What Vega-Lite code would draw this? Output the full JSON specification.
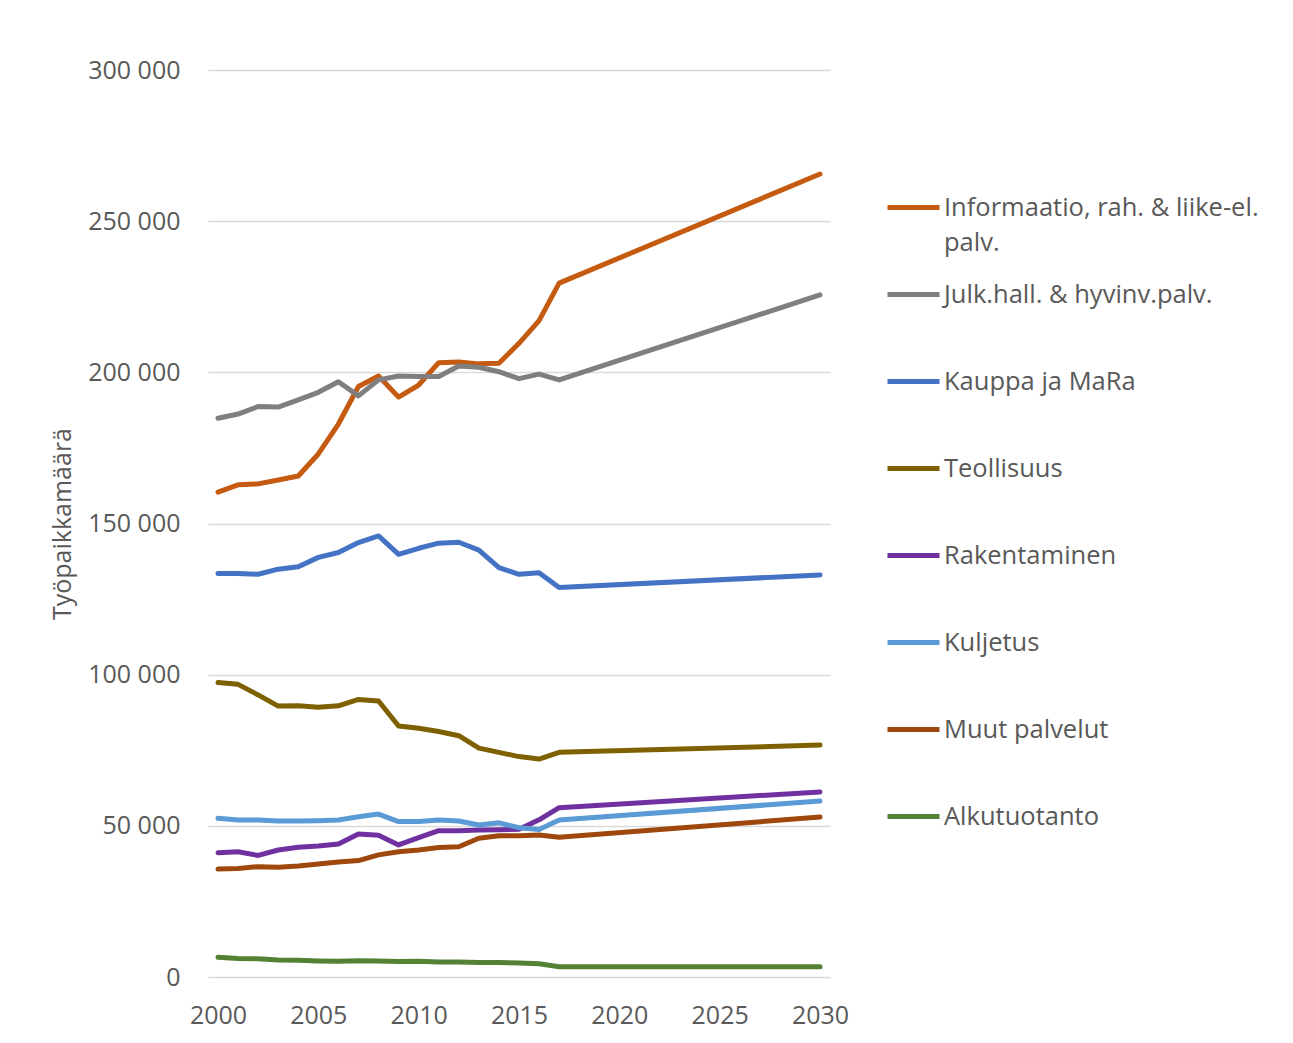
{
  "$schema": "https://vega.github.io/schema/vega-lite/v6.json",
  "width": 622,
  "height": 907,
  "autosize": {"type": "none"},
  "padding": {"left": 208, "top": 70, "right": 463, "bottom": 66},
  "background": "white",
  "config": {
    "view": {"stroke": null},
    "locale": {"number": {"decimal": ",", "thousands": " ", "grouping": [3], "currency": ["", " €"]}},
    "font": "Open Sans",
    "style": {"guide-label": {"lineHeight": 35}}
  },
  "data": {"values": [
    {"year": 2000, "sector": "Informaatio, rah. & liike-el. palv.", "value": 160400},
    {"year": 2001, "sector": "Informaatio, rah. & liike-el. palv.", "value": 162800},
    {"year": 2002, "sector": "Informaatio, rah. & liike-el. palv.", "value": 163100},
    {"year": 2003, "sector": "Informaatio, rah. & liike-el. palv.", "value": 164400},
    {"year": 2004, "sector": "Informaatio, rah. & liike-el. palv.", "value": 165700},
    {"year": 2005, "sector": "Informaatio, rah. & liike-el. palv.", "value": 173000},
    {"year": 2006, "sector": "Informaatio, rah. & liike-el. palv.", "value": 182900},
    {"year": 2007, "sector": "Informaatio, rah. & liike-el. palv.", "value": 195300},
    {"year": 2008, "sector": "Informaatio, rah. & liike-el. palv.", "value": 198800},
    {"year": 2009, "sector": "Informaatio, rah. & liike-el. palv.", "value": 191800},
    {"year": 2010, "sector": "Informaatio, rah. & liike-el. palv.", "value": 195800},
    {"year": 2011, "sector": "Informaatio, rah. & liike-el. palv.", "value": 203200},
    {"year": 2012, "sector": "Informaatio, rah. & liike-el. palv.", "value": 203400},
    {"year": 2013, "sector": "Informaatio, rah. & liike-el. palv.", "value": 202800},
    {"year": 2014, "sector": "Informaatio, rah. & liike-el. palv.", "value": 203000},
    {"year": 2015, "sector": "Informaatio, rah. & liike-el. palv.", "value": 209600},
    {"year": 2016, "sector": "Informaatio, rah. & liike-el. palv.", "value": 217100},
    {"year": 2017, "sector": "Informaatio, rah. & liike-el. palv.", "value": 229500},
    {"year": 2030, "sector": "Informaatio, rah. & liike-el. palv.", "value": 265600},
    {"year": 2000, "sector": "Julk.hall. & hyvinv.palv.", "value": 184800},
    {"year": 2001, "sector": "Julk.hall. & hyvinv.palv.", "value": 186200},
    {"year": 2002, "sector": "Julk.hall. & hyvinv.palv.", "value": 188700},
    {"year": 2003, "sector": "Julk.hall. & hyvinv.palv.", "value": 188500},
    {"year": 2004, "sector": "Julk.hall. & hyvinv.palv.", "value": 190900},
    {"year": 2005, "sector": "Julk.hall. & hyvinv.palv.", "value": 193400},
    {"year": 2006, "sector": "Julk.hall. & hyvinv.palv.", "value": 196900},
    {"year": 2007, "sector": "Julk.hall. & hyvinv.palv.", "value": 192200},
    {"year": 2008, "sector": "Julk.hall. & hyvinv.palv.", "value": 197500},
    {"year": 2009, "sector": "Julk.hall. & hyvinv.palv.", "value": 198800},
    {"year": 2010, "sector": "Julk.hall. & hyvinv.palv.", "value": 198600},
    {"year": 2011, "sector": "Julk.hall. & hyvinv.palv.", "value": 198600},
    {"year": 2012, "sector": "Julk.hall. & hyvinv.palv.", "value": 202100},
    {"year": 2013, "sector": "Julk.hall. & hyvinv.palv.", "value": 201700},
    {"year": 2014, "sector": "Julk.hall. & hyvinv.palv.", "value": 200200},
    {"year": 2015, "sector": "Julk.hall. & hyvinv.palv.", "value": 197900},
    {"year": 2016, "sector": "Julk.hall. & hyvinv.palv.", "value": 199400},
    {"year": 2017, "sector": "Julk.hall. & hyvinv.palv.", "value": 197500},
    {"year": 2030, "sector": "Julk.hall. & hyvinv.palv.", "value": 225600},
    {"year": 2000, "sector": "Kauppa ja MaRa", "value": 133500},
    {"year": 2001, "sector": "Kauppa ja MaRa", "value": 133500},
    {"year": 2002, "sector": "Kauppa ja MaRa", "value": 133200},
    {"year": 2003, "sector": "Kauppa ja MaRa", "value": 134900},
    {"year": 2004, "sector": "Kauppa ja MaRa", "value": 135700},
    {"year": 2005, "sector": "Kauppa ja MaRa", "value": 138800},
    {"year": 2006, "sector": "Kauppa ja MaRa", "value": 140400},
    {"year": 2007, "sector": "Kauppa ja MaRa", "value": 143700},
    {"year": 2008, "sector": "Kauppa ja MaRa", "value": 145900},
    {"year": 2009, "sector": "Kauppa ja MaRa", "value": 139800},
    {"year": 2010, "sector": "Kauppa ja MaRa", "value": 141800},
    {"year": 2011, "sector": "Kauppa ja MaRa", "value": 143500},
    {"year": 2012, "sector": "Kauppa ja MaRa", "value": 143800},
    {"year": 2013, "sector": "Kauppa ja MaRa", "value": 141200},
    {"year": 2014, "sector": "Kauppa ja MaRa", "value": 135400},
    {"year": 2015, "sector": "Kauppa ja MaRa", "value": 133200},
    {"year": 2016, "sector": "Kauppa ja MaRa", "value": 133700},
    {"year": 2017, "sector": "Kauppa ja MaRa", "value": 128800},
    {"year": 2030, "sector": "Kauppa ja MaRa", "value": 133000},
    {"year": 2000, "sector": "Teollisuus", "value": 97400},
    {"year": 2001, "sector": "Teollisuus", "value": 96800},
    {"year": 2002, "sector": "Teollisuus", "value": 93300},
    {"year": 2003, "sector": "Teollisuus", "value": 89600},
    {"year": 2004, "sector": "Teollisuus", "value": 89700},
    {"year": 2005, "sector": "Teollisuus", "value": 89200},
    {"year": 2006, "sector": "Teollisuus", "value": 89700},
    {"year": 2007, "sector": "Teollisuus", "value": 91800},
    {"year": 2008, "sector": "Teollisuus", "value": 91300},
    {"year": 2009, "sector": "Teollisuus", "value": 83000},
    {"year": 2010, "sector": "Teollisuus", "value": 82300},
    {"year": 2011, "sector": "Teollisuus", "value": 81200},
    {"year": 2012, "sector": "Teollisuus", "value": 79800},
    {"year": 2013, "sector": "Teollisuus", "value": 75700},
    {"year": 2014, "sector": "Teollisuus", "value": 74300},
    {"year": 2015, "sector": "Teollisuus", "value": 72900},
    {"year": 2016, "sector": "Teollisuus", "value": 72100},
    {"year": 2017, "sector": "Teollisuus", "value": 74300},
    {"year": 2030, "sector": "Teollisuus", "value": 76700},
    {"year": 2000, "sector": "Rakentaminen", "value": 41100},
    {"year": 2001, "sector": "Rakentaminen", "value": 41400},
    {"year": 2002, "sector": "Rakentaminen", "value": 40200},
    {"year": 2003, "sector": "Rakentaminen", "value": 42000},
    {"year": 2004, "sector": "Rakentaminen", "value": 42900},
    {"year": 2005, "sector": "Rakentaminen", "value": 43300},
    {"year": 2006, "sector": "Rakentaminen", "value": 44000},
    {"year": 2007, "sector": "Rakentaminen", "value": 47300},
    {"year": 2008, "sector": "Rakentaminen", "value": 46900},
    {"year": 2009, "sector": "Rakentaminen", "value": 43700},
    {"year": 2010, "sector": "Rakentaminen", "value": 46100},
    {"year": 2011, "sector": "Rakentaminen", "value": 48400},
    {"year": 2012, "sector": "Rakentaminen", "value": 48400},
    {"year": 2013, "sector": "Rakentaminen", "value": 48600},
    {"year": 2014, "sector": "Rakentaminen", "value": 48700},
    {"year": 2015, "sector": "Rakentaminen", "value": 48900},
    {"year": 2016, "sector": "Rakentaminen", "value": 52000},
    {"year": 2017, "sector": "Rakentaminen", "value": 56000},
    {"year": 2030, "sector": "Rakentaminen", "value": 61200},
    {"year": 2000, "sector": "Kuljetus", "value": 52500},
    {"year": 2001, "sector": "Kuljetus", "value": 51900},
    {"year": 2002, "sector": "Kuljetus", "value": 51900},
    {"year": 2003, "sector": "Kuljetus", "value": 51600},
    {"year": 2004, "sector": "Kuljetus", "value": 51600},
    {"year": 2005, "sector": "Kuljetus", "value": 51700},
    {"year": 2006, "sector": "Kuljetus", "value": 51900},
    {"year": 2007, "sector": "Kuljetus", "value": 53000},
    {"year": 2008, "sector": "Kuljetus", "value": 53900},
    {"year": 2009, "sector": "Kuljetus", "value": 51400},
    {"year": 2010, "sector": "Kuljetus", "value": 51400},
    {"year": 2011, "sector": "Kuljetus", "value": 51900},
    {"year": 2012, "sector": "Kuljetus", "value": 51600},
    {"year": 2013, "sector": "Kuljetus", "value": 50300},
    {"year": 2014, "sector": "Kuljetus", "value": 51000},
    {"year": 2015, "sector": "Kuljetus", "value": 49400},
    {"year": 2016, "sector": "Kuljetus", "value": 48800},
    {"year": 2017, "sector": "Kuljetus", "value": 51900},
    {"year": 2030, "sector": "Kuljetus", "value": 58200},
    {"year": 2000, "sector": "Muut palvelut", "value": 35700},
    {"year": 2001, "sector": "Muut palvelut", "value": 35900},
    {"year": 2002, "sector": "Muut palvelut", "value": 36500},
    {"year": 2003, "sector": "Muut palvelut", "value": 36300},
    {"year": 2004, "sector": "Muut palvelut", "value": 36700},
    {"year": 2005, "sector": "Muut palvelut", "value": 37400},
    {"year": 2006, "sector": "Muut palvelut", "value": 38000},
    {"year": 2007, "sector": "Muut palvelut", "value": 38500},
    {"year": 2008, "sector": "Muut palvelut", "value": 40400},
    {"year": 2009, "sector": "Muut palvelut", "value": 41400},
    {"year": 2010, "sector": "Muut palvelut", "value": 42000},
    {"year": 2011, "sector": "Muut palvelut", "value": 42800},
    {"year": 2012, "sector": "Muut palvelut", "value": 43100},
    {"year": 2013, "sector": "Muut palvelut", "value": 45900},
    {"year": 2014, "sector": "Muut palvelut", "value": 46700},
    {"year": 2015, "sector": "Muut palvelut", "value": 46700},
    {"year": 2016, "sector": "Muut palvelut", "value": 47000},
    {"year": 2017, "sector": "Muut palvelut", "value": 46200},
    {"year": 2030, "sector": "Muut palvelut", "value": 52900},
    {"year": 2000, "sector": "Alkutuotanto", "value": 6500},
    {"year": 2001, "sector": "Alkutuotanto", "value": 6100},
    {"year": 2002, "sector": "Alkutuotanto", "value": 6000},
    {"year": 2003, "sector": "Alkutuotanto", "value": 5600},
    {"year": 2004, "sector": "Alkutuotanto", "value": 5500},
    {"year": 2005, "sector": "Alkutuotanto", "value": 5300},
    {"year": 2006, "sector": "Alkutuotanto", "value": 5200},
    {"year": 2007, "sector": "Alkutuotanto", "value": 5400},
    {"year": 2008, "sector": "Alkutuotanto", "value": 5300},
    {"year": 2009, "sector": "Alkutuotanto", "value": 5100},
    {"year": 2010, "sector": "Alkutuotanto", "value": 5200},
    {"year": 2011, "sector": "Alkutuotanto", "value": 5000},
    {"year": 2012, "sector": "Alkutuotanto", "value": 5000},
    {"year": 2013, "sector": "Alkutuotanto", "value": 4800},
    {"year": 2014, "sector": "Alkutuotanto", "value": 4800},
    {"year": 2015, "sector": "Alkutuotanto", "value": 4600},
    {"year": 2016, "sector": "Alkutuotanto", "value": 4400},
    {"year": 2017, "sector": "Alkutuotanto", "value": 3400},
    {"year": 2030, "sector": "Alkutuotanto", "value": 3400}
  ]},
  "mark": {"type": "line", "strokeWidth": 5, "strokeCap": "round", "strokeJoin": "round"},
  "encoding": {
    "x": {
      "field": "year", "type": "quantitative",
      "scale": {"domain": [2000, 2030], "padding": 10, "nice": false, "zero": false},
      "axis": {
        "values": [2000, 2005, 2010, 2015, 2020, 2025, 2030],
        "format": "d", "title": null, "grid": false, "domain": false, "ticks": false,
        "labelFontSize": 25, "labelColor": "#595959", "labelPadding": 26, "labelFont": "Open Sans"
      }
    },
    "y": {
      "field": "value", "type": "quantitative",
      "scale": {"domain": [0, 300000], "nice": false},
      "axis": {
        "values": [0, 50000, 100000, 150000, 200000, 250000, 300000],
        "format": ",d", "title": "Työpaikkamäärä", "domain": false, "ticks": false,
        "gridColor": "#D9D9D9", "gridWidth": 1.5,
        "labelFontSize": 25, "labelColor": "#595959", "labelPadding": 28,
        "titleFontSize": 25, "titleColor": "#595959", "titleFontWeight": "normal", "titlePadding": 12
      }
    },
    "color": {
      "field": "sector", "type": "nominal",
      "scale": {
        "domain": ["Informaatio, rah. & liike-el. palv.", "Julk.hall. & hyvinv.palv.", "Kauppa ja MaRa", "Teollisuus", "Rakentaminen", "Kuljetus", "Muut palvelut", "Alkutuotanto"],
        "range": ["#C55A11", "#7F7F7F", "#4472C4", "#7F6000", "#7030A0", "#5B9BD5", "#9E480E", "#548235"]
      },
      "legend": {
        "title": null, "orient": "none", "legendX": 677, "legendY": 109,
        "symbolType": "stroke", "symbolSize": 2704, "symbolStrokeWidth": 5,
        "labelFontSize": 25.5, "labelColor": "#595959", "labelOffset": 2, "labelLimit": 400,
        "gridAlign": "all", "rowPadding": 10,
        "labelExpr": "datum.label == 'Informaatio, rah. & liike-el. palv.' ? ['Informaatio, rah. & liike-el.', 'palv.'] : datum.label"
      }
    }
  }
}
